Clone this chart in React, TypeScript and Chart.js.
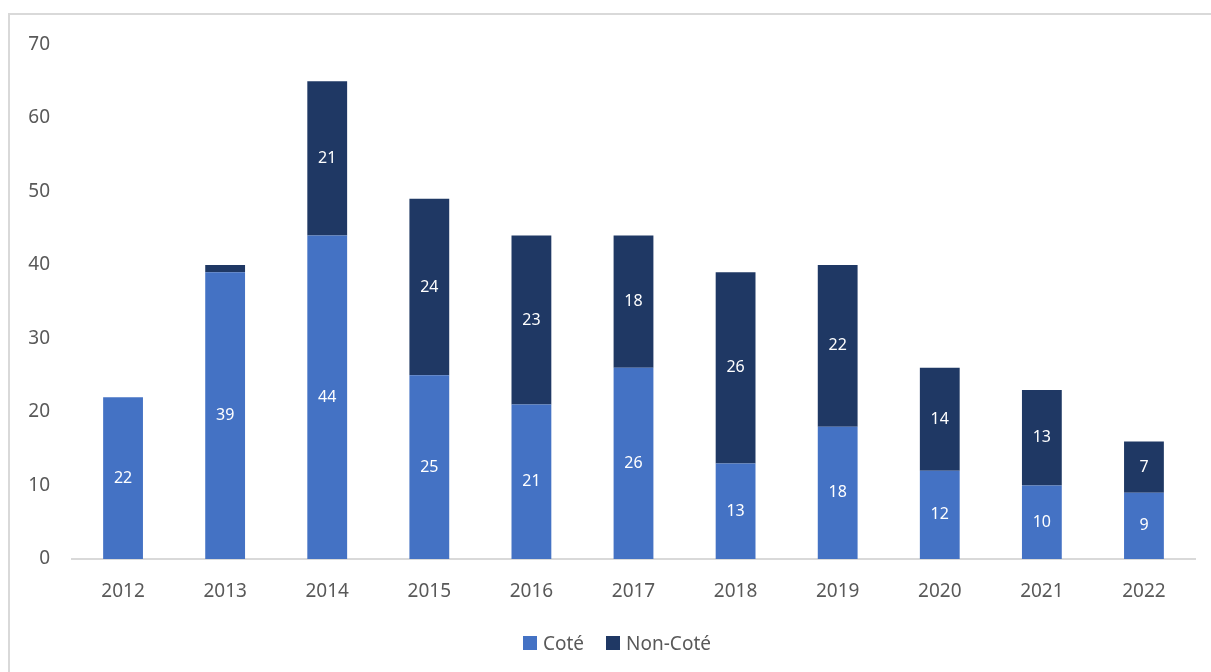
import React, { useEffect, useRef } from "react";
import { Chart, registerables } from "chart.js";

Chart.register(...registerables);

const years = ["2012", "2013", "2014", "2015", "2016", "2017", "2018", "2019", "2020", "2021", "2022"];
const cote = [22, 39, 44, 25, 21, 26, 13, 18, 12, 10, 9];
const nonCote = [0, 1, 21, 24, 23, 18, 26, 22, 14, 13, 7];
const yTicks = [0, 10, 20, 30, 40, 50, 60, 70];
const seriesNames = ["Coté", "Non-Coté"];
const seriesColors = ["#4472C4", "#1F3864"];

const FONT = "'Noto Sans', 'Open Sans', sans-serif";

const labelPlugin = {
  id: "barLabels",
  afterDatasetsDraw(chart: any) {
    const ctx = chart.ctx;
    ctx.save();
    ctx.fillStyle = "#ffffff";
    ctx.font = `16px ${FONT}`;
    ctx.textAlign = "center";
    ctx.textBaseline = "middle";
    chart.data.datasets.forEach((ds: any, di: number) => {
      const meta = chart.getDatasetMeta(di);
      meta.data.forEach((bar: any, i: number) => {
        const v = ds.data[i];
        if (!v || v < 2) return;
        const y = (bar.y + bar.base) / 2;
        ctx.fillText(String(v), bar.x, y);
      });
    });
    ctx.restore();
  },
};

export default function App() {
  const ref = useRef<HTMLCanvasElement>(null);
  useEffect(() => {
    if (!ref.current) return;
    const chart = new Chart(ref.current, {
      type: "bar",
      data: {
        labels: years,
        datasets: [
          { label: seriesNames[0], data: cote, backgroundColor: seriesColors[0], barPercentage: 0.78, categoryPercentage: 0.5 },
          { label: seriesNames[1], data: nonCote, backgroundColor: seriesColors[1], barPercentage: 0.78, categoryPercentage: 0.5 },
        ],
      },
      options: {
        animation: false,
        responsive: false,
        maintainAspectRatio: false,
        layout: { padding: { top: 15, right: 37, left: 0, bottom: 56 } },
        plugins: {
          tooltip: { enabled: false },
          legend: { display: false },
        },
        scales: {
          x: {
            stacked: true,
            grid: { display: false, drawTicks: false },
            border: { display: true, color: "#d9d9d9", width: 2 },
            ticks: { color: "#595959", font: { family: FONT, size: 19 }, padding: 21 },
            afterFit(axis: any) {
              axis.height = 56;
            },
          },
          y: {
            stacked: true,
            min: 0,
            max: 70,
            afterBuildTicks(axis: any) {
              axis.ticks = yTicks.map((v) => ({ value: v }));
            },
            grid: { display: false, drawTicks: false },
            border: { display: false },
            ticks: { color: "#595959", font: { family: FONT, size: 19 }, padding: 22 },
            afterFit(axis: any) {
              axis.width = 62;
            },
          },
        },
      },
      plugins: [labelPlugin],
    });
    return () => chart.destroy();
  }, []);
  return (
    <div style={{ position: "fixed", left: 0, top: 0, width: 1211, height: 672, overflow: "hidden", background: "#fff" }}>
      <div
        style={{
          position: "absolute",
          left: 8,
          top: 13,
          width: 1222,
          height: 670,
          border: "2px solid #d9d9d9",
        }}
      >
        <canvas
          ref={ref}
          width={1222}
          height={660}
          style={{ display: "block", position: "relative", top: -4 }}
        />
      </div>
      <div
        style={{
          position: "absolute",
          left: 523,
          top: 630,
          height: 26,
          display: "flex",
          alignItems: "center",
          fontFamily: FONT,
          fontSize: 19,
          color: "#595959",
          whiteSpace: "nowrap",
        }}
      >
        {seriesNames.map((n, i) => (
          <div key={n} style={{ display: "flex", alignItems: "center", marginRight: 22 }}>
            <span style={{ width: 14, height: 14, background: seriesColors[i], display: "inline-block", marginRight: 6 }} />
            <span>{n}</span>
          </div>
        ))}
      </div>
    </div>
  );
}
